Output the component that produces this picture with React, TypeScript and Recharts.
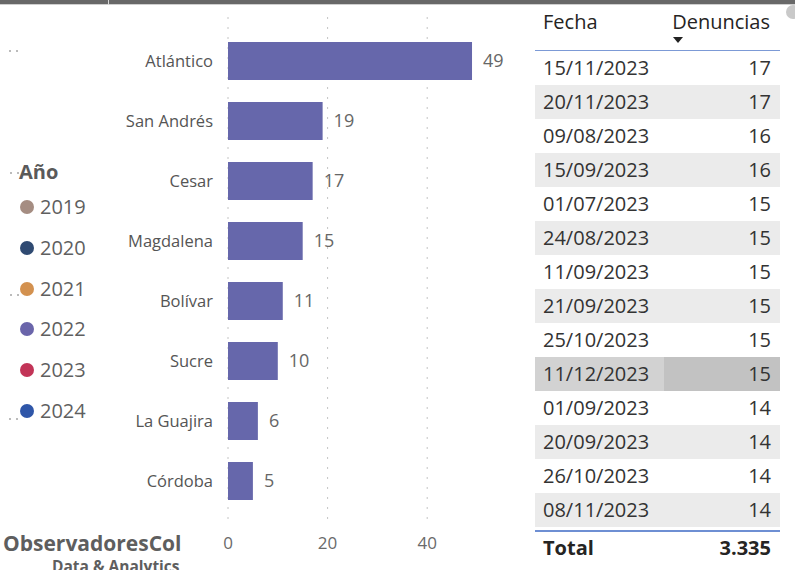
import React from "react";
import { BarChart, Bar, XAxis, YAxis, CartesianGrid, LabelList, Legend } from "recharts";

const departments = ["Atlántico", "San Andrés", "Cesar", "Magdalena", "Bolívar", "Sucre", "La Guajira", "Córdoba"];
const complaints = [49, 19, 17, 15, 11, 10, 6, 5];
const xTicks = [0, 20, 40];

const years = ["2019", "2020", "2021", "2022", "2023", "2024"];
const yearColors = ["#A58D82", "#2F4A72", "#D3914F", "#6A65AA", "#C23457", "#2F56A8"];

const dates = [
  "15/11/2023", "20/11/2023", "09/08/2023", "15/09/2023", "01/07/2023", "24/08/2023", "11/09/2023",
  "21/09/2023", "25/10/2023", "11/12/2023", "01/09/2023", "20/09/2023", "26/10/2023", "08/11/2023",
];
const dateCounts = [17, 17, 16, 16, 15, 15, 15, 15, 15, 15, 14, 14, 14, 14];
const totalLabel = "3.335";
const highlightedIndex = 9;

const FONT = "'Open Sans', 'Noto Sans', sans-serif";

const chartData = departments.map((name, i) => ({ name, value: complaints[i] }));

const LegendBox = () => (
  <div style={{ fontFamily: FONT, color: "#5a5a5a", position: "relative", width: 110, height: 280 }}>
    <div style={{ position: "absolute", left: 19, top: 172 - 150 - 15, fontSize: 20, fontWeight: 700, lineHeight: "30px" }}>Año</div>
    {years.map((y, i) => {
      const cy = 207 + i * 40.8 - 150;
      return (
        <div key={y} style={{ position: "absolute", left: 0, top: cy - 15, height: 30, width: 110 }}>
          <div style={{ position: "absolute", left: 20, top: 8, width: 14, height: 14, borderRadius: 7, background: yearColors[i] }} />
          <div style={{ position: "absolute", left: 40, top: 0, fontSize: 20, lineHeight: "30px", color: "#5f5f5f" }}>{y}</div>
        </div>
      );
    })}
  </div>
);

const Dots = ({ x, y }: { x: number; y: number }) => (
  <>
    <div style={{ position: "absolute", left: x, top: y, width: 1.5, height: 1.5, background: "#bbb" }} />
    <div style={{ position: "absolute", left: x + 7, top: y, width: 1.5, height: 1.5, background: "#bbb" }} />
  </>
);

export default function App() {
  const rowTop = 51.3;
  const rowH = 34;
  return (
    <div style={{ position: "fixed", left: 0, top: 0, width: 795, height: 570, overflow: "hidden", background: "#fff", fontFamily: FONT }}>
      {/* top frame */}
      <div style={{ position: "absolute", left: 0, top: 0, width: 795, height: 4, background: "#686868" }} />
      <div style={{ position: "absolute", left: 0, top: 4, width: 795, height: 1, background: "#cfcfcf" }} />
      <div style={{ position: "absolute", left: 108, top: 0, width: 1, height: 5, background: "#d8d8d8" }} />
      <div style={{ position: "absolute", left: 786, top: 5, width: 14, height: 14, borderRadius: 7, background: "#c9c9c9" }} />

      <Dots x={9} y={50} />
      <Dots x={10} y={172} />
      <Dots x={10} y={294} />
      <Dots x={9} y={418} />

      <div style={{ position: "absolute", left: 0, top: 0 }}>
        <BarChart
          width={795}
          height={570}
          data={chartData}
          layout="vertical"
          margin={{ top: 17, right: 318, bottom: 15, left: 0 }}
          barCategoryGap={11}
        >
          <CartesianGrid
            horizontal={false}
            vertical={true}
            stroke="#c4c4c4"
            strokeDasharray="2 8"
            verticalValues={xTicks}
          />
          <XAxis
            type="number"
            domain={[0, 50]}
            ticks={xTicks}
            height={30}
            axisLine={false}
            tickLine={false}
            tickMargin={6}
            tick={{ fill: "#6a6a6a", fontSize: 17, fontFamily: FONT }}
          />
          <YAxis
            type="category"
            dataKey="name"
            width={228}
            padding={{ top: 14, bottom: 14 }}
            axisLine={false}
            tickLine={false}
            tickMargin={9}
            interval={0}
            tick={{ fill: "#555", fontSize: 16.5, fontFamily: FONT }}
          />
          <Legend
            layout="horizontal"
            align="center"
            verticalAlign="middle"
            wrapperStyle={{ left: 0, top: 150, width: 110, height: 280 }}
            content={() => <LegendBox />}
          />
          <Bar dataKey="value" fill="#6667AB" isAnimationActive={false}>
            <LabelList dataKey="value" position="right" offset={11} fill="#666" fontSize={18} fontFamily={FONT} />
          </Bar>
        </BarChart>
      </div>

      {/* branding */}
      <div style={{ position: "absolute", left: 3, top: 532, fontSize: 21, fontWeight: 700, color: "#5e5e5e", lineHeight: "22px" }}>ObservadoresCol</div>
      <div style={{ position: "absolute", left: 52, top: 557, fontSize: 15.5, fontWeight: 700, color: "#5e5e5e", lineHeight: "18px" }}>Data &amp; Analytics</div>

      {/* table */}
      <div style={{ position: "absolute", left: 535, top: 0, width: 245, height: 570, color: "#252423" }}>
        <div style={{ position: "absolute", left: 8, top: 22 - 15, fontSize: 20, lineHeight: "30px" }}>Fecha</div>
        <div style={{ position: "absolute", right: 10, top: 22 - 15, fontSize: 20, lineHeight: "30px" }}>Denuncias</div>
        <div
          style={{
            position: "absolute",
            left: 138,
            top: 37,
            width: 0,
            height: 0,
            borderLeft: "5.5px solid transparent",
            borderRight: "5.5px solid transparent",
            borderTop: "6px solid #222",
          }}
        />
        <div style={{ position: "absolute", left: 0, top: 49.5, width: 245, height: 1.5, background: "#7C9AD6" }} />
        {dates.map((d, i) => {
          const top = rowTop + i * rowH;
          const shaded = i % 2 === 1;
          const hl = i === highlightedIndex;
          const leftBg = hl ? "#D2D2D2" : shaded ? "#EBEBEB" : "#fff";
          const rightBg = hl ? "#C2C2C2" : shaded ? "#EBEBEB" : "#fff";
          return (
            <div key={d} style={{ position: "absolute", left: 0, top, width: 245, height: rowH }}>
              <div style={{ position: "absolute", left: 0, top: 0, width: 129, height: rowH - 0.5, background: leftBg }} />
              <div style={{ position: "absolute", left: 129, top: 0, width: 116, height: rowH - 0.5, background: rightBg }} />
              <div style={{ position: "absolute", left: 8, top: 0, fontSize: 20, lineHeight: rowH + "px", color: "#333" }}>{d}</div>
              <div style={{ position: "absolute", right: 9, top: 0, fontSize: 20, lineHeight: rowH + "px", color: "#333" }}>{dateCounts[i]}</div>
            </div>
          );
        })}
        <div style={{ position: "absolute", left: 0, top: 529.5, width: 245, height: 2, background: "#6E8FD3" }} />
        <div style={{ position: "absolute", left: 8, top: 548 - 15, fontSize: 20, fontWeight: 700, lineHeight: "30px", color: "#252423" }}>Total</div>
        <div style={{ position: "absolute", right: 9, top: 548 - 15, fontSize: 20, fontWeight: 700, lineHeight: "30px", color: "#252423" }}>{totalLabel}</div>
      </div>
    </div>
  );
}
